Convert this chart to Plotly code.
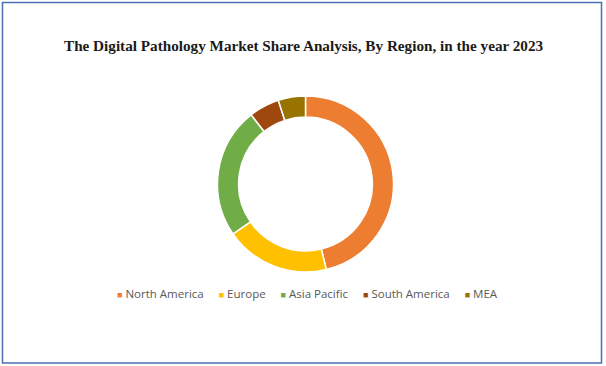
import plotly.graph_objects as go

regions = ["North America", "Europe", "Asia Pacific", "South America", "MEA"]
shares = [46.2, 19.2, 24.0, 5.6, 5.0]
colors = ["#ED7D31", "#FFC000", "#70AD47", "#9E480E", "#997300"]
title_text = "The Digital Pathology Market Share Analysis, By Region, in the year 2023"

W, H = 606, 366
cx, cy, r = 305.5, 184.0, 88.0

fig = go.Figure(go.Pie(
    labels=regions, values=shares, hole=0.76, sort=False, direction="clockwise",
    rotation=0, marker=dict(colors=colors, line=dict(color="white", width=1.5)),
    textinfo="none", hoverinfo="label+percent", showlegend=False,
    domain=dict(x=[(cx - r) / W, (cx + r) / W], y=[(H - cy - r) / H, (H - cy + r) / H]),
))

gap = "&nbsp;" * 5
legend_txt = gap.join(
    f"<span style='font-size:9px;color:{c}'>■</span>&nbsp;{lab}" for lab, c in zip(regions, colors)
)

fig.add_annotation(x=307.5 / W, y=1 - 293 / H, xref="paper", yref="paper", text=legend_txt,
                   showarrow=False, font=dict(family="Open Sans", size=11.5, color="#595959"),
                   xanchor="center", yanchor="middle")
fig.add_annotation(x=304 / W, y=1 - 45 / H, xref="paper", yref="paper", text=f"<b>{title_text}</b>",
                   showarrow=False, font=dict(family="Liberation Serif", size=15.2, color="#1a1a1a"),
                   xanchor="center", yanchor="middle")
fig.add_shape(type="rect", xref="paper", yref="paper",
              x0=2.5 / W, x1=601.5 / W, y0=1 - 363 / H, y1=1 - 2.5 / H,
              line=dict(color="#4A6FB5", width=1.5))

fig.update_layout(width=W, height=H, margin=dict(l=0, r=0, t=0, b=0),
                  paper_bgcolor="white", plot_bgcolor="white")
fig.write_html("out.html", config={"displayModeBar": False},
               post_script="document.body.style.margin='0';document.body.style.overflow='hidden';")
